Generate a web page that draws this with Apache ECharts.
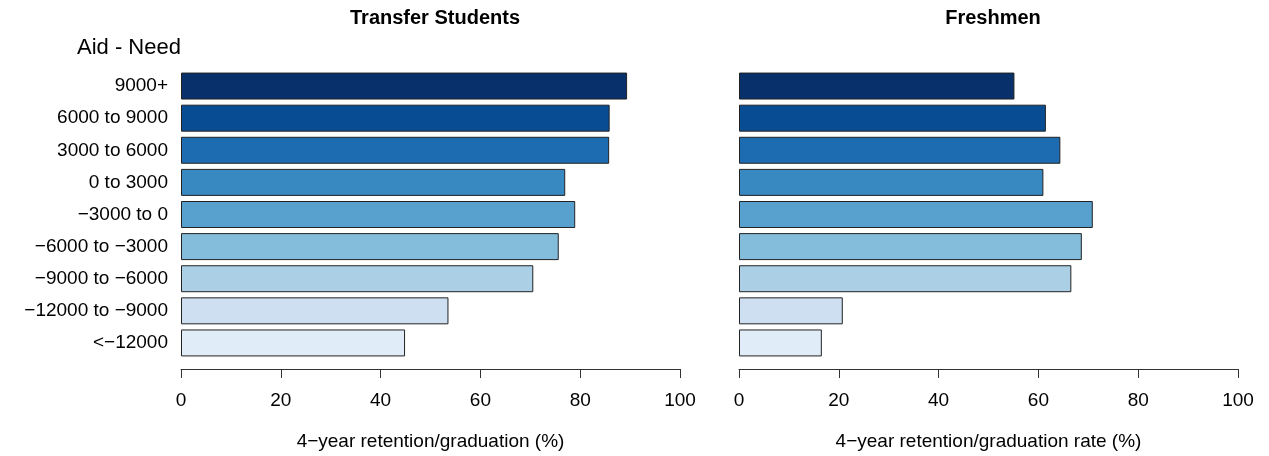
<!DOCTYPE html>
<html>
<head>
<meta charset="utf-8">
<script src="https://cdn.jsdelivr.net/npm/echarts@6/dist/echarts.min.js"></script>
<style>
    html, body { margin: 0; padding: 0; background: #fff; }
    #chart { width: 1269px; height: 456px; }
</style>
</head>
<body>
<div id="chart"></div>
<script>
// categories top to bottom
var categories = ['9000+', '6000 to 9000', '3000 to 6000', '0 to 3000', '\u22123000 to 0',
    '\u22126000 to \u22123000', '\u22129000 to \u22126000', '\u221212000 to \u22129000', '<\u221212000'];
var transferValues = [89.4, 85.9, 85.8, 77.0, 79.0, 75.7, 70.6, 53.6, 44.9];
var freshmenValues = [55.2, 61.5, 64.4, 61.0, 70.9, 68.7, 66.6, 20.8, 16.6];
var xTicks = [0, 20, 40, 60, 80, 100];
// Blues ramp, darkest at top
var barColors = ['#08306b', '#084c94', '#1d6cb1', '#3888c1', '#58a1cf', '#84bcdb', '#abd0e6', '#cddff0', '#e0ecf8'];

var chart = echarts.init(document.getElementById('chart'));
var font = 'Liberation Sans, Arial, sans-serif';

function makeX(gridIndex, name) {
    return {
        type: 'value',
        gridIndex: gridIndex,
        min: xTicks[0],
        max: xTicks[xTicks.length - 1],
        interval: 20,
        offset: 10,
        name: name,
        nameLocation: 'middle',
        nameGap: 63,
        nameTextStyle: { color: '#000', fontSize: 19, fontFamily: font },
        axisLine: { show: true, lineStyle: { color: '#333', width: 1 } },
        axisTick: { show: true, length: 9, lineStyle: { color: '#333' } },
        axisLabel: { color: '#000', fontSize: 19, fontFamily: font, margin: 22 },
        splitLine: { show: false }
    };
}

function makeY(gridIndex, showLabels) {
    return {
        type: 'category',
        gridIndex: gridIndex,
        data: categories,
        inverse: true,
        axisLine: { show: false },
        axisTick: { show: false },
        axisLabel: { show: showLabels, color: '#000', fontSize: 19, fontFamily: font, margin: 13 }
    };
}

function makeBars(idx, values) {
    return {
        type: 'bar',
        xAxisIndex: idx,
        yAxisIndex: idx,
        data: values,
        barCategoryGap: '16%',
        itemStyle: {
            color: function(p) { return barColors[p.dataIndex]; },
            borderColor: '#222',
            borderWidth: 1
        },
        silent: true
    };
}

var option = {
    animation: false,
    backgroundColor: '#fff',
    title: [
        { text: 'Transfer Students', left: 430, top: 3, textAlign: 'center',
          textStyle: { fontSize: 20, fontWeight: 'bold', color: '#000', fontFamily: font } },
        { text: 'Freshmen', left: 988, top: 3, textAlign: 'center',
          textStyle: { fontSize: 20, fontWeight: 'bold', color: '#000', fontFamily: font } },
        { text: 'Aid - Need', left: 72, top: 32,
          textStyle: { fontSize: 22, fontWeight: 'normal', color: '#000', fontFamily: font } }
    ],
    grid: [
        { left: 181, width: 499, top: 70, height: 294 },
        { left: 739, width: 499, top: 70, height: 294 }
    ],
    xAxis: [
        makeX(0, '4\u2212year retention/graduation (%)'),
        makeX(1, '4\u2212year retention/graduation rate (%)')
    ],
    yAxis: [makeY(0, true), makeY(1, false)],
    series: [makeBars(0, transferValues), makeBars(1, freshmenValues)]
};
chart.setOption(option);
</script>
</body>
</html>
